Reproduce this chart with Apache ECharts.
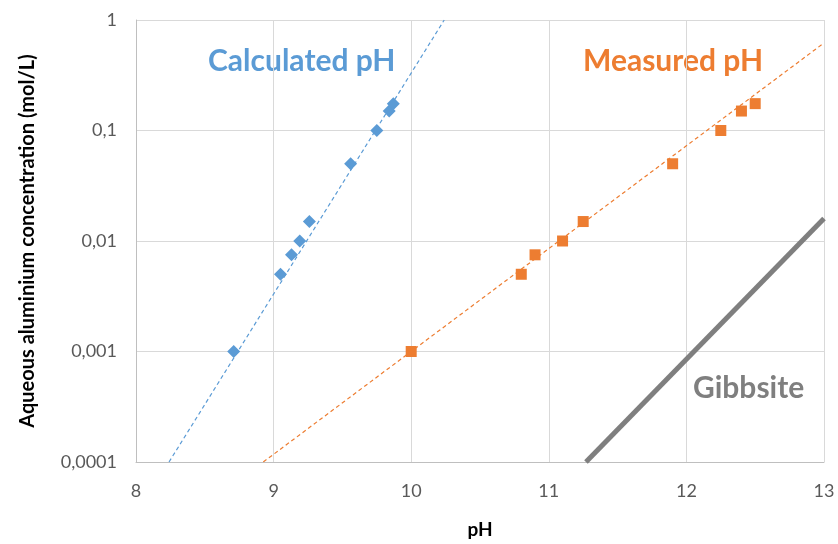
<!DOCTYPE html>
<html><head><meta charset="utf-8">
<script src="https://cdn.jsdelivr.net/npm/echarts@6/dist/echarts.min.js"></script>
<style>html,body{margin:0;padding:0;background:#fff}#c{width:838px;height:544px}</style>
</head><body><div id="c"></div>
<script>
// Data
var calcPH   = [8.71, 9.05, 9.13, 9.19, 9.26, 9.56, 9.75, 9.84, 9.87];
var calcConc = [0.001, 0.005, 0.0075, 0.01, 0.015, 0.05, 0.1, 0.15, 0.175];
var measPH   = [10.0, 10.8, 10.9, 11.1, 11.25, 11.9, 12.25, 12.4, 12.5];
var measConc = [0.001, 0.005, 0.0075, 0.01, 0.015, 0.05, 0.1, 0.15, 0.175];
var calcTrendPH = [8.24, 10.24];
var calcTrendConc = [0.0001, 1];
var measTrendPH = [8.925, 13];
var measTrendConc = [0.0001, 0.62];
var gibbPH = [11.27, 13];
var gibbConc = [0.0001, 0.016];
var xTicks = [8, 9, 10, 11, 12, 13];
var yTickLabels = ['0,0001', '0,001', '0,01', '0,1', '1'];

function zip(a, b) { return a.map(function (v, i) { return [v, b[i]]; }); }

var FONT = 'Lato, "Open Sans", sans-serif';
var chart = echarts.init(document.getElementById('c'), null, {renderer: 'canvas', width: 838, height: 544});
chart.setOption({
  animation: false,
  grid: {left: 136, width: 688, top: 20, height: 444, containLabel: false},
  xAxis: {
    type: 'value', min: xTicks[0], max: xTicks[xTicks.length - 1], interval: 1,
    name: 'pH', nameLocation: 'middle', nameGap: 58,
    nameTextStyle: {fontFamily: FONT, fontWeight: 'bold', fontSize: 19, color: '#000'},
    axisLine: {show: true, lineStyle: {color: '#bfbfbf', width: 1}},
    axisTick: {show: false},
    axisLabel: {fontFamily: FONT, fontSize: 18, color: '#595959', margin: 20},
    splitLine: {show: true, lineStyle: {color: '#d9d9d9', width: 1}}
  },
  yAxis: {
    type: 'log', logBase: 10, min: 0.0001, max: 1,
    name: 'Aqueous aluminium concentration (mol/L)', nameLocation: 'middle', nameGap: 98,
    nameTextStyle: {fontFamily: FONT, fontWeight: 'bold', fontSize: 20, color: '#000'},
    axisLine: {show: true, lineStyle: {color: '#bfbfbf', width: 1}},
    axisTick: {show: false},
    axisLabel: {fontFamily: FONT, fontSize: 18, color: '#595959', margin: 19,
      formatter: function (v) { var k = Math.round(Math.log10(v)) + 4; return yTickLabels[k] || ''; }},
    splitLine: {show: true, lineStyle: {color: '#d9d9d9', width: 1}}
  },
  series: [
    {type: 'line', data: zip(calcTrendPH, calcTrendConc), symbol: 'none', silent: true,
     lineStyle: {color: '#5b9bd5', width: 1.2, type: [4, 3]}, z: 2},
    {type: 'line', data: zip(measTrendPH, measTrendConc), symbol: 'none', silent: true,
     lineStyle: {color: '#ed7d31', width: 1.2, type: [4, 3]}, z: 2},
    {type: 'line', data: zip(gibbPH, gibbConc), symbol: 'none', silent: true,
     lineStyle: {color: '#7f7f7f', width: 5}, z: 2},
    {type: 'scatter', data: zip(calcPH, calcConc), symbol: 'diamond', symbolSize: 13,
     itemStyle: {color: '#5b9bd5', opacity: 1}, z: 3},
    {type: 'scatter', data: zip(measPH, measConc), symbol: 'rect', symbolSize: 11,
     itemStyle: {color: '#ed7d31', opacity: 1}, z: 3}
  ],
  graphic: [
    {type: 'text', left: 208, top: 46, style: {text: 'Calculated pH', fill: '#5b9bd5', font: 'bold 30px ' + FONT}},
    {type: 'text', left: 583, top: 46, style: {text: 'Measured pH', fill: '#ed7d31', font: 'bold 30px ' + FONT}},
    {type: 'text', left: 693, top: 373, style: {text: 'Gibbsite', fill: '#7f7f7f', font: 'bold 30px ' + FONT}}
  ]
});
</script></body></html>
